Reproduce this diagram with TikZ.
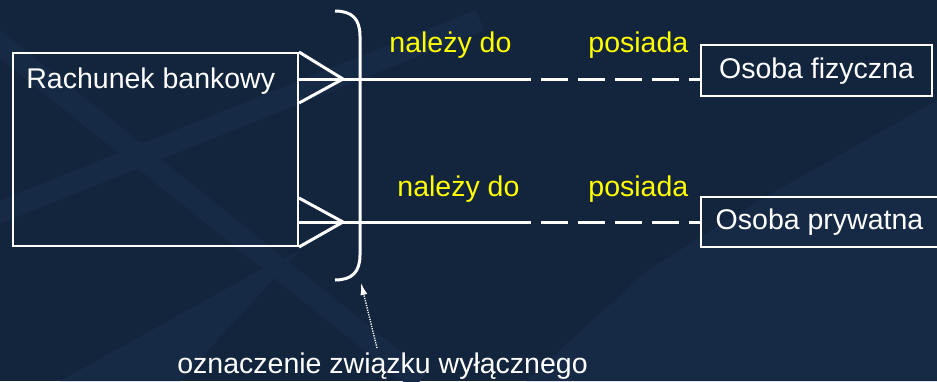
\documentclass[tikz,border=0pt]{standalone}
\usepackage{fontspec}
\setmainfont{Liberation Sans}
\usetikzlibrary{arrows.meta}
\definecolor{tlo}{HTML}{13243D}
\definecolor{pas}{HTML}{162A46}
\definecolor{zolty}{HTML}{FFFF00}
\tikzset{
  encja/.style={draw=white, line width=1pt, inner sep=0pt, text height=.76em, text depth=0pt},
  linia/.style={draw=white, line width=1.5pt},
  opis/.style={anchor=base west, inner sep=0pt, text=zolty}
}
\begin{document}
\begin{tikzpicture}[x=0.5pt, y=-0.5pt, >={Latex[length=6pt,width=3.5pt]}, font=\fontsize{14.25}{17}\selectfont, text=white]
\fill[tlo] (0,0) rectangle (937,381);
\useasboundingbox (0,0) rectangle (937,381);
% tlo w pasy
\begin{scope}
\clip (0,0) rectangle (937,381);
\draw[pas, line width=11pt] (-30,20) -- (420,381);
\draw[pas, line width=11pt] (-20,220) -- (480,20);
\fill[pas] (60,381) -- (260,270) -- (300,250) -- (180,381) -- cycle;
\fill[pas] (526,381) -- (648,270) -- (760,200) -- (937,100) -- (937,381) -- cycle;
\end{scope}
% encje
\node[encja, minimum width=142.5pt, minimum height=96.5pt] (rach) at (155.5,149.5) {};
\node[anchor=base west, inner sep=0pt] (nazwa) at (26,88) {Rachunek bankowy};
\node[encja, minimum width=115.5pt, minimum height=25.5pt] (fiz) at (816.5,70.5) {Osoba fizyczna};
\node[encja, minimum width=118.5pt, minimum height=25pt] (pryw) at (819.5,222) {Osoba prywatna};
% punkty
\coordinate (c1) at (343,79);
\coordinate (c2) at (343,222);
\coordinate (d1) at (531,79);
\coordinate (d2) at (531,222);
\coordinate (e1) at (541,79);
\coordinate (e2) at (541,222);
\path (rach.north east) ++(0,51) coordinate (s1);
\path (rach.south east) ++(0,-49) coordinate (s2);
% kurze lapki i linie zwiazkow
\draw[linia] (rach.north east) -- (c1) -- (s1);
\draw[linia] (s2) -- (c2) -- (rach.south east);
\draw[linia] (rach.east |- c1) -- (d1);
\draw[linia] (rach.east |- c2) -- (d2);
\draw[linia, dash pattern=on 13.5pt off 5pt] (e1) -- (fiz.west |- c1);
\draw[linia, dash pattern=on 13.5pt off 5pt] (e2) -- (pryw.west |- c2);
% klamra
\draw[linia] (335,11) .. controls (352,11) and (360,19) .. (360,36) -- (360,255) .. controls (360,272) and (352,280) .. (335,280);
\node[opis] (n1) at (389,52) {należy do};
\node[opis] (p1) at (588,52) {posiada};
\node[opis] (n2) at (397,196) {należy do};
\node[opis] (p2) at (588,196) {posiada};
% objasnienie
\node[anchor=base west, inner sep=0pt] (uwaga) at (177,373) {oznaczenie związku wyłącznego};
\coordinate (kropki) at (377,348);
\coordinate (klamra) at (361,283);
\draw[->, white, line width=.7pt, dash pattern=on .6pt off .6pt] (kropki) -- (klamra);
\end{tikzpicture}
\end{document}
